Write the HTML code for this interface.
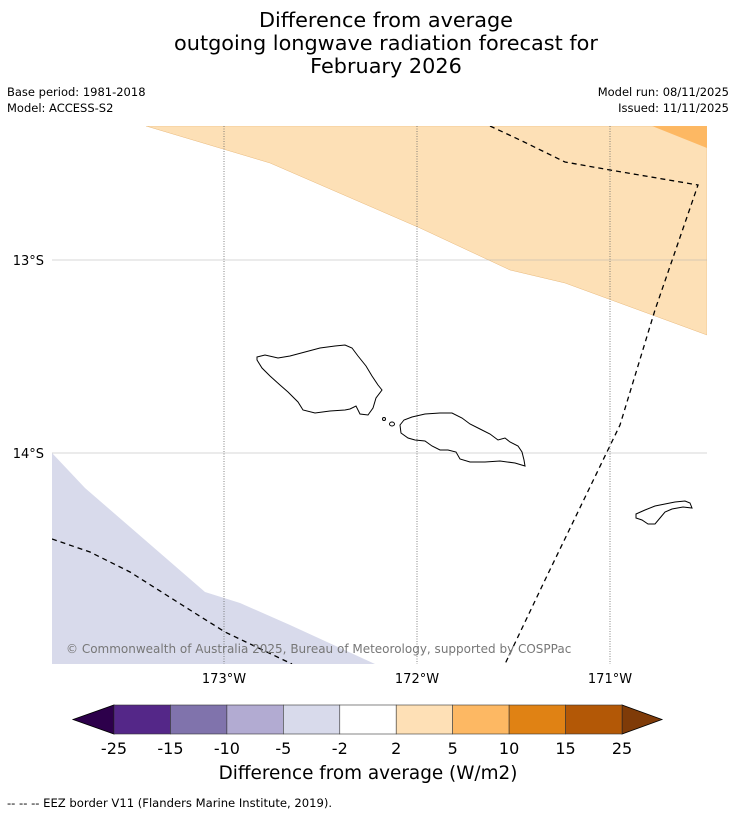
<!DOCTYPE html>
<html><head><meta charset="utf-8"><style>
body{margin:0;background:#fff;font-family:"Liberation Sans","DejaVu Sans",sans-serif;}
svg text{font-family:"DejaVu Sans","Liberation Sans",sans-serif;}
</style></head><body>
<svg id="chart" width="736" height="816" viewBox="0 0 736 816" xmlns="http://www.w3.org/2000/svg">
<rect width="736" height="816" fill="#fff"/>
<g font-size="20.8" text-anchor="middle" fill="#000">
<text x="386" y="27">Difference from average</text>
<text x="386" y="50">outgoing longwave radiation forecast for</text>
<text x="386" y="73">February 2026</text>
</g>
<g font-size="11.5" fill="#000">
<text x="7" y="96">Base period: 1981-2018</text>
<text x="7" y="112">Model: ACCESS-S2</text>
<text x="729" y="96" text-anchor="end">Model run: 08/11/2025</text>
<text x="729" y="112" text-anchor="end">Issued: 11/11/2025</text>
</g>
<defs><clipPath id="mc"><rect x="52" y="126" width="655" height="538"/></clipPath></defs>
<g id="map" clip-path="url(#mc)">
<polygon fill="#fde0b6" stroke="#e8b87a" stroke-width="0.5" points="146,126 270,163 420,228 510,270 565,283 707,335 707,126"/>
<polygon fill="#fdb863" points="652,126 707,148 707,126"/>
<polygon fill="#d8daeb" points="52,453 85,488 205,592 240,603 290,625 375,664 52,664"/>
<g id="grid" stroke-width="0.8"></g>
<g fill="none" stroke="#000" stroke-width="1">
<polygon points="257,357 265,355 278,358 290,356 305,352 320,348 335,346 345,345 352,348 358,356 366,366 372,376 378,385 382,390 376,398 373,408 368,415 360,414 356,406 350,409 345,410 330,411 315,413 303,410 298,402 288,392 280,385 270,376 262,368 257,360"/>
<polygon points="400,425 404,420 412,417 425,414 440,413 452,413 462,418 470,424 480,429 490,434 498,440 505,438 510,442 518,446 522,452 524,460 525,466 515,463 500,461 485,462 470,462 460,459 456,452 448,450 440,450 432,446 425,441 415,440 408,438 401,433"/>
<circle cx="384" cy="419" r="1.5"/>
<ellipse cx="392" cy="424" rx="2.5" ry="2"/>
<polygon points="636,514 645,510 655,506 665,504 675,502 685,501 690,503 692,508 683,507 672,509 665,512 660,518 655,524 648,524 642,520 636,518"/>
</g>
<polyline fill="none" stroke="#000" stroke-width="1.3" stroke-dasharray="5,4" points="490,126 520,140 565,162 610,170 698,185 655,310 620,425 545,580 505,664"/>
<polyline fill="none" stroke="#000" stroke-width="1.3" stroke-dasharray="5,4" points="52,539 90,552 130,572 190,610 225,632 292,664"/>
</g>
<text x="66" y="653" font-size="12" fill="#777">© Commonwealth of Australia 2025, Bureau of Meteorology, supported by COSPPac</text>
<g id="axes" font-size="13" fill="#000"></g>
<g id="cbar"></g>
<text x="368" y="779" font-size="18.4" text-anchor="middle">Difference from average (W/m2)</text>
<text x="7" y="807" font-size="11.6">--  --  -- EEZ border V11 (Flanders Marine Institute, 2019).</text>
</svg>
<script>
const lonTicks=[-173,-172,-171];
const lonLabels=["173°W","172°W","171°W"];
const latTicks=[-13,-14];
const latLabels=["13°S","14°S"];
const cbarLevels=["-25","-15","-10","-5","-2","2","5","10","15","25"];
const cbarColors=["#542788","#8073ac","#b2abd2","#d8daeb","#ffffff","#fee0b6","#fdb863","#e08214","#b35806"];
const lowColor="#2d004b", highColor="#7f3b08";
const NS="http://www.w3.org/2000/svg";
const xLon=l=>417+(l+172)*193;
const yLat=a=>260+(-13-a)*193;
function mk(t,a){const e=document.createElementNS(NS,t);for(const k in a)e.setAttribute(k,a[k]);return e;}
const grid=document.getElementById('grid'),axes=document.getElementById('axes');
lonTicks.forEach((l,i)=>{
 const ln=mk('line',{x1:xLon(l),x2:xLon(l),y1:126,y2:664,stroke:'#666','stroke-dasharray':'1,1.5'});
 
 
 grid.appendChild(ln);
 const t=mk('text',{x:xLon(l),y:683,'text-anchor':'middle'});t.textContent=lonLabels[i];
 
 
 axes.appendChild(t);
});
latTicks.forEach((a,i)=>{
 const ln=mk('line',{x1:52,x2:707,y1:yLat(a),y2:yLat(a),stroke:'#b0b0b0','stroke-width':0.6});
 
 
 grid.appendChild(ln);
 const t=mk('text',{x:44,y:yLat(a)+5,'text-anchor':'end'});t.textContent=latLabels[i];
 
 
 axes.appendChild(t);
});
const cb=document.getElementById('cbar');
const x0=114,x1=622,y0=705,y1=734,n=cbarColors.length,w=(x1-x0)/n;
const lt=mk('polygon',{points:`73,${(y0+y1)/2} ${x0},${y0} ${x0},${y1}`,fill:lowColor,stroke:'#000','stroke-width':0.8});


cb.appendChild(lt);
const rt=mk('polygon',{points:`662,${(y0+y1)/2} ${x1},${y0} ${x1},${y1}`,fill:highColor,stroke:'#000','stroke-width':0.8});


cb.appendChild(rt);
cbarColors.forEach((c,i)=>{
 const r=mk('rect',{x:x0+i*w,y:y0,width:w,height:y1-y0,fill:c,stroke:'#333','stroke-width':0.6});
 
 
 cb.appendChild(r);
});
cbarLevels.forEach((v,i)=>{
 const t=mk('text',{x:x0+i*w,y:754,'font-size':16,'text-anchor':'middle'});t.textContent=v;
 
 
 cb.appendChild(t);
});
</script>
</body></html>
